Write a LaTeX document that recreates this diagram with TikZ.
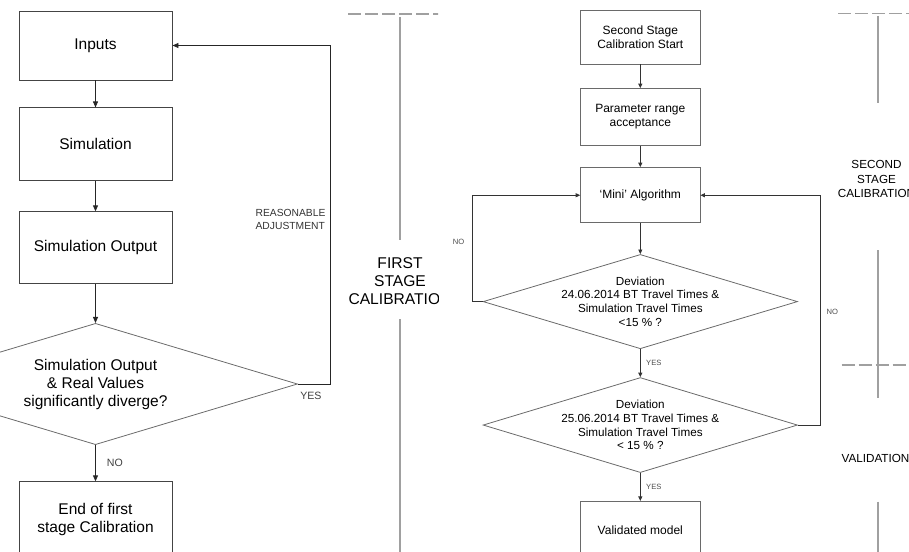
\documentclass[tikz,border=0pt]{standalone}
\usepackage{fontspec}
\setmainfont{Liberation Sans}
\usetikzlibrary{arrows.meta,positioning,shapes.geometric}
\definecolor{boxline}{HTML}{444444}
\definecolor{dialine}{HTML}{6A6A6A}
\definecolor{barline}{HTML}{A0A0A0}
\newcommand{\bigtxt}{\fontsize{15.5}{18}\selectfont}
\newcommand{\midtxt}{\fontsize{12}{14}\selectfont}
\newcommand{\dectxt}{\fontsize{11.7}{13.6}\selectfont}

\begin{document}
\begin{tikzpicture}[
    x=1pt, y=-1pt,
    box/.style={draw=boxline, line width=0.9pt, minimum width=153pt, align=center, inner sep=2pt, font=\bigtxt},
    rbox/.style={draw=dialine, line width=0.9pt, minimum width=119.3pt, align=center, inner sep=2pt, font=\midtxt},
    decision/.style={diamond, draw=dialine, line width=0.8pt, inner sep=0pt},
    dtext/.style={align=center, inner sep=0pt},
    flow/.style={-{Triangle[length=6pt,width=5pt]}, line width=0.9pt, draw=black!85},
    rflow/.style={-{Triangle[length=4.5pt,width=4pt]}, line width=0.8pt, draw=black!80},
    ltag/.style={font=\fontsize{10.6}{12}\selectfont, text=black!75, inner sep=2pt},
    rtag/.style={font=\fontsize{7.6}{9}\selectfont, text=black!70, inner sep=2pt},
    bar/.style={draw=barline, line width=1.5pt},
    cut/.style={bar, dash pattern=on 13pt off 4pt},
    stage/.style={align=center, inner sep=0pt}]
  \useasboundingbox (0,0) rectangle (909,551);
  \begin{scope}
    \clip (0,0) rectangle (438,551);
    \node[box, minimum height=69pt] (inputs) at (95.5,45.5) {Inputs};
    \node[box, minimum height=73pt, below=27pt of inputs] (sim) {Simulation};
    \node[box, minimum height=72pt, below=30pt of sim] (simout) {Simulation Output};
    \node[decision, minimum width=404pt, minimum height=121.3pt, below=38.7pt of simout] (cmp) {};
    \node[dtext, font=\bigtxt] at (cmp) {Simulation Output\\\& Real Values\\significantly diverge?};
    \node[box, minimum height=76pt, below=36.3pt of cmp] (end) {End of first\\stage Calibration};
    \draw[flow] (inputs) -- (sim);
    \draw[flow] (sim) -- (simout);
    \draw[flow] (simout) -- (cmp);
    \draw[flow] (cmp) -- node[ltag, right=9pt] {NO} (end);
    \draw[flow] (cmp.east) -- node[ltag, pos=0, anchor=north west, yshift=-6pt] {YES} ++(33,0)
      |- node[pos=0.243, anchor=east, xshift=-5pt, align=left, inner sep=0pt, text=black!80,
              font=\fontsize{10.3}{12.3}\selectfont] {REASONABLE\\ADJUSTMENT} (inputs.east);
    \draw[cut] (348,14) -- (445,14);
    \draw[bar] (400,17) -- (400,240);
    \node[stage, font=\fontsize{15.6}{18}\selectfont] (first) at (400,281) {FIRST\\STAGE\\CALIBRATION};
    \draw[bar] (400,319) -- (400,560);
  \end{scope}
  \begin{scope}
    \clip (438,0) rectangle (909,551);
    \node[rbox, minimum height=54pt] (start) at (640.3,37) {Second Stage\\Calibration Start};
    \node[rbox, minimum height=56.7pt, below=23.7pt of start] (param) {Parameter range\\acceptance};
    \node[rbox, minimum height=55.3pt, below=21.4pt of param] (mini) {`Mini' Algorithm};
    \node[decision, minimum width=314.4pt, minimum height=94.3pt, below=30.7pt of mini] (dev1) {};
    \node[dtext, font=\dectxt] at (dev1) {Deviation\\24.06.2014 BT Travel Times \&\\Simulation Travel Times\\<15 \% ?};
    \node[decision, minimum width=314.4pt, minimum height=95pt, below=28pt of dev1] (dev2) {};
    \node[dtext, font=\dectxt] at (dev2) {Deviation\\25.06.2014 BT Travel Times \&\\Simulation Travel Times\\< 15 \% ?};
    \node[rbox, minimum height=57pt, below=28pt of dev2] (valid) {Validated model};
    \draw[rflow] (start) -- (param);
    \draw[rflow] (param) -- (mini);
    \draw[rflow] (mini) -- (dev1);
    \draw[rflow] (dev1) -- node[rtag, right=3.5pt] {YES} (dev2);
    \draw[rflow] (dev2) -- node[rtag, right=3.5pt] {YES} (valid);
    \draw[rflow] (dev1.west) -- ++(-10.6,0) |- node[rtag, pos=0.279, left=5.5pt] {NO} (mini.west);
    \draw[rflow] (dev2.east) -- ++(22.3,0) |- node[rtag, pos=0.247, right=4pt] {NO} (mini.east);
    \draw[cut] (838.3,13.3) -- (915,13.3);
    \draw[bar] (878,16) -- (878,103.3);
    \node[stage, font=\fontsize{11.7}{14.5}\selectfont] (second) at (876.5,179) {SECOND\\STAGE\\CALIBRATION};
    \draw[bar] (878,250) -- (878,398.3);
    \draw[cut] (841.7,365) -- (915,365);
    \node[stage, font=\fontsize{11.7}{14.5}\selectfont] (check) at (875.5,458.3) {VALIDATION};
    \draw[bar] (878,501.7) -- (878,560);
  \end{scope}
\end{tikzpicture}
\end{document}
